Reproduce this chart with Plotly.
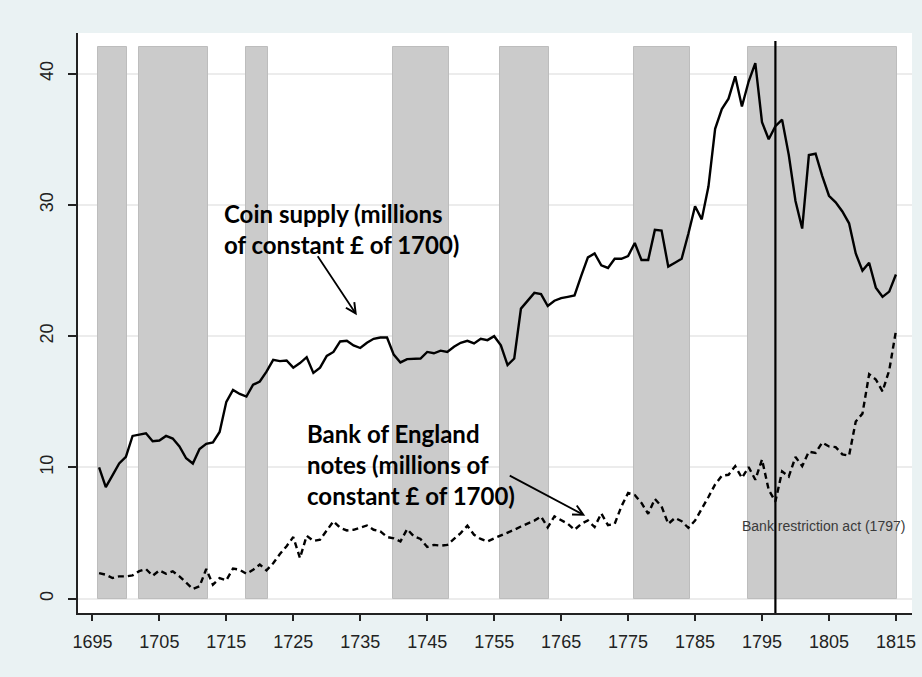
import plotly.graph_objects as go

years = list(range(1696, 1816))

coin_supply = [
    10.0, 8.5, 9.4, 10.3, 10.8, 12.4, 12.5, 12.6, 12.0, 12.05,   # 1696-1705
    12.4, 12.2, 11.6, 10.7, 10.3, 11.4, 11.8, 11.9, 12.7, 15.0,  # 1706-1715
    15.9, 15.6, 15.4, 16.3, 16.55, 17.3, 18.2, 18.1, 18.15, 17.6,  # 1716-1725
    17.95, 18.4, 17.2, 17.6, 18.5, 18.8, 19.6, 19.65, 19.3, 19.1,  # 1726-1735
    19.5, 19.8, 19.9, 19.9, 18.6, 18.0, 18.25, 18.3, 18.3, 18.8,   # 1736-1745
    18.7, 18.9, 18.8, 19.2, 19.5, 19.65, 19.45, 19.8, 19.7, 20.0,  # 1746-1755
    19.3, 17.8, 18.3, 22.1, 22.7, 23.3, 23.2, 22.3, 22.7, 22.9,    # 1756-1765
    23.0, 23.1, 24.6, 26.0, 26.3, 25.4, 25.2, 25.9, 25.9, 26.1,    # 1766-1775
    27.1, 25.8, 25.8, 28.1, 28.05, 25.3, 25.6, 25.9, 27.8, 29.9,   # 1776-1785
    28.9, 31.4, 35.8, 37.3, 38.1, 39.8, 37.5, 39.4, 40.8, 36.3,    # 1786-1795
    35.0, 36.0, 36.5, 33.8, 30.3, 28.2, 33.8, 33.9, 32.2, 30.7,    # 1796-1805
    30.2, 29.5, 28.6, 26.3, 25.0, 25.6, 23.7, 23.0, 23.4, 24.7,    # 1806-1815
]

boe_notes = [
    1.95, 1.83, 1.57, 1.7, 1.7, 1.78, 2.1, 2.26, 1.75, 2.16,       # 1696-1705
    1.9, 2.08, 1.7, 1.24, 0.74, 0.94, 2.26, 1.07, 1.57, 1.4,       # 1706-1715
    2.3, 2.2, 1.9, 2.2, 2.6, 2.16, 2.7, 3.4, 4.0, 4.7,             # 1716-1725
    3.1, 4.8, 4.4, 4.5, 5.2, 5.9, 5.4, 5.2, 5.25, 5.4,             # 1726-1735
    5.58, 5.25, 5.13, 4.7, 4.6, 4.36, 5.3, 4.75, 4.55, 3.94,       # 1736-1745
    4.1, 4.04, 4.1, 4.55, 5.0, 5.56, 4.87, 4.55, 4.36, 4.6,        # 1746-1755
    4.8, 5.05, 5.25, 5.5, 5.7, 5.95, 6.27, 5.43, 6.27, 6.0,        # 1756-1765
    5.7, 5.25, 5.7, 5.96, 5.46, 6.5, 5.6, 5.7, 7.03, 8.05,         # 1766-1775
    7.9, 7.3, 6.47, 7.6, 7.03, 5.7, 6.15, 5.9, 5.4, 5.95,          # 1776-1785
    6.8, 7.75, 8.7, 9.37, 9.44, 10.1, 9.2, 10.03, 9.06, 10.6,      # 1786-1795
    8.3, 7.4, 9.7, 9.3, 10.8, 10.1, 11.2, 11.1, 11.9, 11.6,        # 1796-1805
    11.55, 11.0, 10.9, 13.5, 14.1, 17.1, 16.7, 15.8, 17.4, 20.4,   # 1806-1815
]

war_start = [1696, 1702, 1718, 1740, 1756, 1776, 1793]
war_end = [1700, 1712, 1721, 1748, 1763, 1784, 1815]
war_height = 42

restriction_year = 1797
restriction_label = "Bank restriction act (1797)"

x_ticks = list(range(1695, 1816, 10))
y_ticks = [0, 10, 20, 30, 40]

coin_label = ["Coin supply (millions", "of constant £ of 1700)"]
notes_label = ["Bank of England", "notes (millions of", "constant £ of 1700)"]

fig = go.Figure()

# war shading bars
centers = [(s - 0.1 + e + 0.2) / 2 for s, e in zip(war_start, war_end)]
widths = [(e + 0.2) - (s - 0.1) for s, e in zip(war_start, war_end)]
fig.add_trace(go.Bar(
    x=centers, y=[war_height] * len(war_start), width=widths,
    marker=dict(color="#cbcbcb", line=dict(color="#bdbdbd", width=1)),
    hoverinfo="skip", showlegend=False,
))

fig.add_trace(go.Scatter(
    x=years, y=coin_supply, mode="lines",
    line=dict(color="black", width=2.4), showlegend=False,
))
fig.add_trace(go.Scatter(
    x=years, y=boe_notes, mode="lines",
    line=dict(color="black", width=2.4, dash="6px,4px"), showlegend=False,
))

fig.add_shape(type="line", xref="x", yref="y",
              x0=restriction_year, x1=restriction_year, y0=-1.09, y1=42.5,
              line=dict(color="black", width=2.2), layer="above")

ann_font = dict(family="Lato", size=24, color="black")
fig.add_annotation(x=1714.3, y=28.2, xref="x", yref="y",
                   text="<br>".join("<b>%s</b>" % s for s in coin_label),
                   showarrow=False, xanchor="left", yanchor="middle", align="left",
                   font=ann_font)
fig.add_annotation(x=1726.7, y=10.2, xref="x", yref="y",
                   text="<br>".join("<b>%s</b>" % s for s in notes_label),
                   showarrow=False, xanchor="left", yanchor="middle", align="left",
                   font=ann_font)
# arrows
fig.add_annotation(x=1734.5, y=21.6, ax=1728.5, ay=26.2, xref="x", yref="y", axref="x", ayref="y",
                   text="", showarrow=True, arrowhead=5, arrowsize=1.1, arrowwidth=1.8, arrowcolor="black")
fig.add_annotation(x=1768.6, y=6.32, ax=1757.1, ay=9.44, xref="x", yref="y", axref="x", ayref="y",
                   text="", showarrow=True, arrowhead=5, arrowsize=1.1, arrowwidth=1.8, arrowcolor="black")
fig.add_annotation(x=1804.2, y=5.56, xref="x", yref="y", text=restriction_label,
                   showarrow=False, xanchor="center", yanchor="middle",
                   font=dict(family="Liberation Sans", size=14, color="#3a3a3a"))

fig.update_layout(
    width=922, height=677,
    margin=dict(l=78, r=10, t=33, b=64),
    paper_bgcolor="#eaf2f3", plot_bgcolor="white",
    bargap=0,
    font=dict(family="Liberation Sans", size=18, color="#222222"),
    xaxis=dict(range=[1692.85, 1817.4], tickmode="array", tickvals=x_ticks,
               showgrid=False, zeroline=False, showline=True, linecolor="#222222", linewidth=1.5,
               ticks="outside", ticklen=6, tickwidth=1.5, tickcolor="#222222",
               ticklabelstandoff=6, automargin=False),
    yaxis=dict(range=[-1.09, 43.1], tickmode="array", tickvals=y_ticks,
               showgrid=True, gridcolor="#ececec", gridwidth=1.5, zeroline=False,
               showline=True, linecolor="#222222", linewidth=1.5,
               ticks="outside", ticklen=8, tickwidth=1.5, tickcolor="#222222",
               tickangle=-90, ticklabelstandoff=8, automargin=False),
)

fig.write_html("out.html",
               config={"displayModeBar": False},
               post_script="document.body.style.margin='0';document.body.style.padding='0';"
                           "document.body.style.overflow='hidden';")
